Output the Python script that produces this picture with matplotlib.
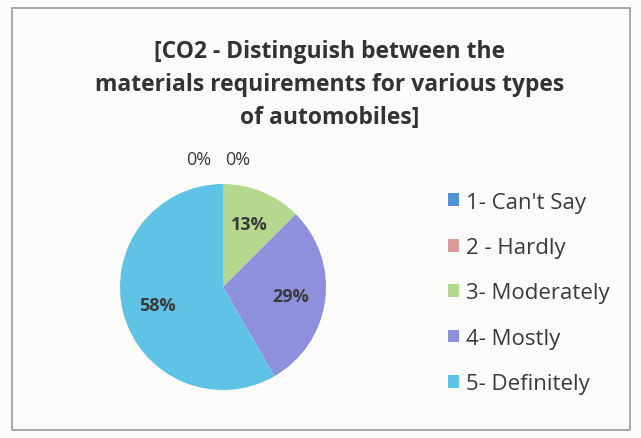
"""Pie chart: CO2 - materials requirements for automobiles."""

import numpy as np
import matplotlib.pyplot as plt
from matplotlib.patches import Rectangle

categories = ["1- Can't Say", "2 - Hardly", "3- Moderately", "4- Mostly", "5- Definitely"]
responses = [0, 0, 3, 7, 14]
colors = ["#4f93d6", "#d99a98", "#b4d88e", "#8e90de", "#5ec3e4"]
title = "[CO2 - Distinguish between the\nmaterials requirements for various types\nof automobiles]"

plt.rcParams["font.family"] = ["Open Sans", "DejaVu Sans"]

W, H = 641, 439
fig = plt.figure(figsize=(W / 100, H / 100), dpi=100)
fig.patch.set_facecolor("#fbfbfa")

# scanned chart border
fig.add_artist(Rectangle((12 / W, 8 / H), (630 - 12) / W, (430 - 8) / H,
                         transform=fig.transFigure, fill=False,
                         edgecolor="#9a9a9a", linewidth=1.2))

fig.text(330 / W, 1 - 85 / H, title, ha="center", va="center",
         fontsize=16.5, fontweight="bold", color="#333333", linespacing=1.5)

cx, cy, r = 223, 288, 103
ax = fig.add_axes([(cx - r) / W, (H - cy - r) / H, 2 * r / W, 2 * r / H])
total = sum(responses)
wedges, _ = ax.pie(responses, colors=colors, startangle=90, counterclock=False,
                   wedgeprops=dict(linewidth=0))
ax.set_xlim(-1, 1)
ax.set_ylim(-1, 1)
ax.set_aspect("equal")

zero_offsets = iter([-0.24, 0.14])
for w, v in zip(wedges, responses):
    pct = f"{int(100 * v / total + 0.5)}%"
    if v == 0:
        ang = np.deg2rad(w.theta1)
        x = np.cos(ang) * 1.24 + next(zero_offsets)
        y = np.sin(ang) * 1.24
    else:
        ang = np.deg2rad((w.theta1 + w.theta2) / 2)
        x, y = 0.66 * np.cos(ang), 0.66 * np.sin(ang)
    ax.text(x, y, pct, ha="center", va="center", fontsize=13,
            color="#3a3a3a", fontweight="bold" if v else "normal")

leg = fig.legend(wedges, categories, loc="center left",
                 bbox_to_anchor=(428 / W, 1 - 294 / H), frameon=False,
                 fontsize=16, handlelength=0.5, handleheight=0.5,
                 handletextpad=0.3, labelspacing=1.1)
for t in leg.get_texts():
    t.set_color("#3a3a3a")

fig.savefig("out.png", dpi=100, facecolor=fig.get_facecolor())
